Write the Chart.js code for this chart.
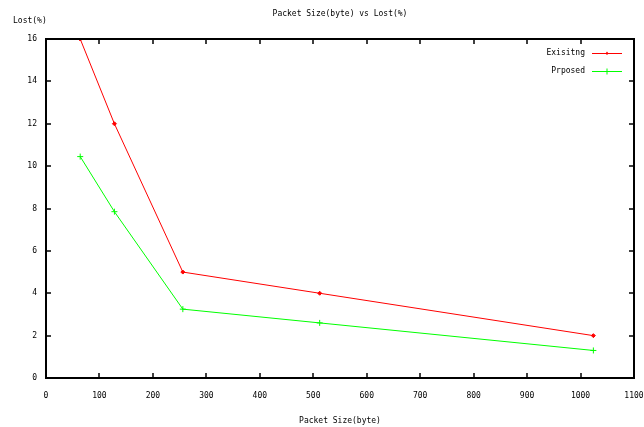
<!DOCTYPE html>
<html>
<head>
<meta charset="utf-8">
<script src="https://cdn.jsdelivr.net/npm/chart.js@4.4.0/dist/chart.umd.min.js"></script>
<style>
html,body{margin:0;padding:0;background:#fff;}
#wrap{width:644px;height:427px;position:relative;}
</style>
</head>
<body>
<div id="wrap"><canvas id="c" width="644" height="427"></canvas></div>
<script>
const packetSizes = [64, 128, 256, 512, 1024];
const existingLoss = [16, 12, 5, 4, 2];
const proposedLoss = [10.45, 7.85, 3.25, 2.6, 1.3];
const seriesNames = ["Exisitng", "Prposed"];
const chartTitle = "Packet Size(byte) vs Lost(%)";
const xTitle = "Packet Size(byte)";
const yTitle = "Lost(%)";
const FONT = "'DejaVu Sans Mono', monospace";

function pts(ys){ return packetSizes.map((x,i)=>({x:x,y:ys[i]})); }

const framePlugin = {
  id: 'frame',
  afterDraw(chart){
    const ctx = chart.ctx, a = chart.chartArea;
    const xs = chart.scales.x, ys = chart.scales.y;
    ctx.save();
    ctx.strokeStyle = '#000';
    ctx.lineWidth = 2;
    ctx.strokeRect(a.left, a.top, a.right - a.left, a.bottom - a.top);
    ctx.lineWidth = 1.5;
    const tl = 5;
    ctx.beginPath();
    xs.ticks.forEach(t=>{
      const px = Math.round(xs.getPixelForValue(t.value));
      ctx.moveTo(px, a.bottom); ctx.lineTo(px, a.bottom - tl);
      ctx.moveTo(px, a.top); ctx.lineTo(px, a.top + tl);
    });
    ys.ticks.forEach(t=>{
      const py = Math.round(ys.getPixelForValue(t.value));
      ctx.moveTo(a.left, py); ctx.lineTo(a.left + tl, py);
      ctx.moveTo(a.right, py); ctx.lineTo(a.right - tl, py);
    });
    ctx.stroke();
    // titles
    ctx.fillStyle = '#000';
    ctx.font = '8px ' + FONT;
    ctx.textBaseline = 'middle';
    ctx.textAlign = 'center';
    ctx.fillText(chartTitle, (a.left + a.right)/2, 14);
    ctx.fillText(xTitle, (a.left + a.right)/2, 421);
    ctx.textAlign = 'left';
    ctx.fillText(yTitle, 13, 21);
    // legend
    const ly = [53, 71];
    chart.data.datasets.forEach((ds, i)=>{
      const y = ly[i];
      ctx.textAlign = 'right';
      ctx.fillStyle = '#000';
      ctx.fillText(ds.label, 585, y);
      ctx.strokeStyle = ds.borderColor;
      ctx.lineWidth = 1;
      ctx.beginPath();
      ctx.moveTo(592, y + 0.5); ctx.lineTo(622, y + 0.5);
      ctx.stroke();
      ctx.beginPath();
      if (i === 0) {
        ctx.fillStyle = ds.borderColor;
        ctx.moveTo(607, y - 1.5); ctx.lineTo(608.5, y + 0.5); ctx.lineTo(607, y + 2); ctx.lineTo(605.5, y + 0.5);
        ctx.closePath(); ctx.fill();
      } else {
        ctx.moveTo(607, y - 2.5); ctx.lineTo(607, y + 3.5);
        ctx.stroke();
      }
    });
    ctx.restore();
  }
};

new Chart(document.getElementById('c'), {
  type: 'scatter',
  data: {
    datasets: [
      { label: seriesNames[0], data: pts(existingLoss), showLine: true,
        borderColor: '#ff0000', backgroundColor: '#ff0000', borderWidth: 1,
        pointStyle: 'rectRot', pointRadius: 2, pointBorderWidth: 1 },
      { label: seriesNames[1], data: pts(proposedLoss), showLine: true,
        borderColor: '#00ff00', backgroundColor: '#00ff00', borderWidth: 1,
        pointStyle: 'cross', pointRadius: 3, pointBorderWidth: 1 }
    ]
  },
  options: {
    responsive: false,
    animation: false,
    layout: { padding: { top: 39, right: 10, left: 0, bottom: 0 } },
    plugins: { legend: { display: false }, tooltip: { enabled: false }, title: { display: false } },
    scales: {
      x: {
        type: 'linear', min: 0, max: 1100,
        grid: { display: false, drawTicks: false },
        border: { display: false },
        ticks: { stepSize: 100, padding: 13, color: '#000', font: { family: FONT, size: 8 }, maxRotation: 0, autoSkip: false,
                 callback: v => String(v) },
        afterFit(s){ s.height = 49; s.paddingLeft = 0; s.paddingRight = 0; }
      },
      y: {
        type: 'linear', min: 0, max: 16,
        grid: { display: false, drawTicks: false },
        border: { display: false },
        ticks: { stepSize: 2, padding: 9, color: '#000', font: { family: FONT, size: 8 }, callback: v => String(v) },
        afterFit(s){ s.width = 46; s.paddingTop = 0; s.paddingBottom = 0; }
      }
    }
  },
  plugins: [framePlugin]
});
</script>
</body>
</html>
